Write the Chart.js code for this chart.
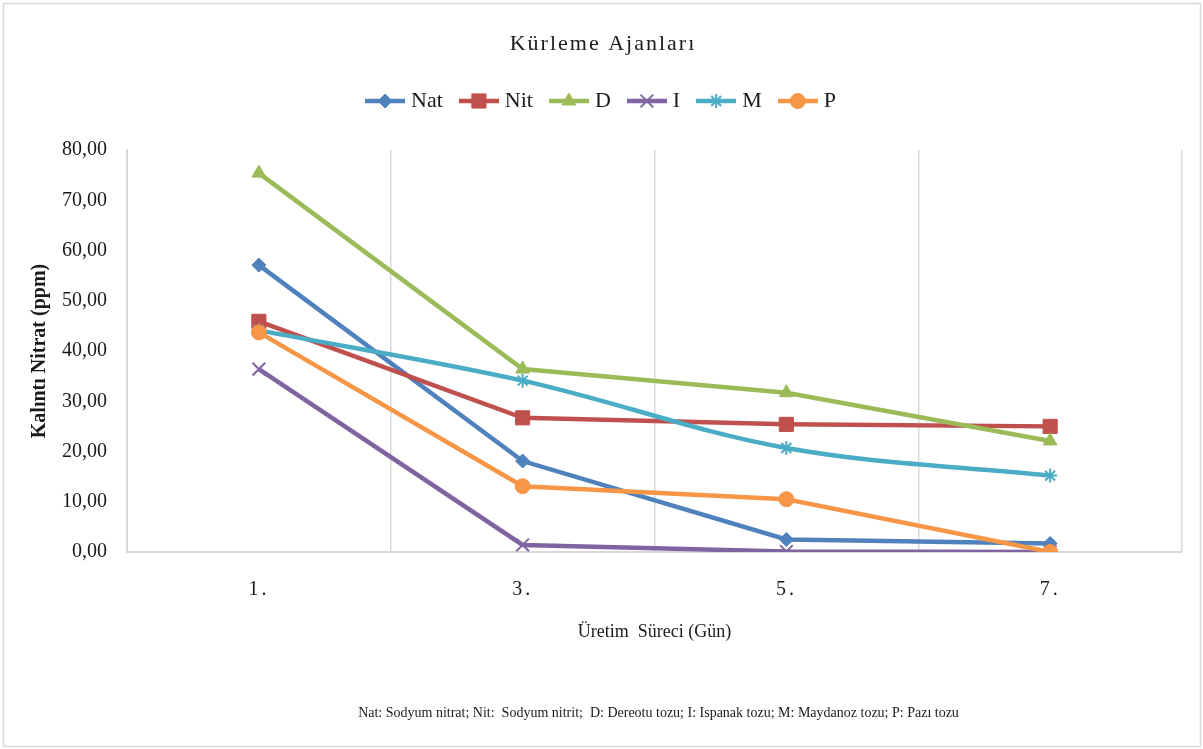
<!DOCTYPE html>
<html lang="tr">
<head>
<meta charset="utf-8">
<title>Kürleme Ajanları</title>
<script src="https://cdn.jsdelivr.net/npm/chart.js@4.4.1/dist/chart.umd.min.js"></script>
<style>
  html, body { margin: 0; padding: 0; background: #ffffff; }
  canvas { display: block; }
</style>
</head>
<body>
<canvas id="chart" width="1203" height="749"></canvas>
<script>
// Production days (x categories)
const days = ['1.', '3.', '5.', '7.'];

// Residual nitrate (ppm) per curing agent
const natValues      = [57.1, 18.1, 2.5, 1.7];   // Sodyum nitrat
const nitValues      = [45.9, 26.7, 25.4, 25.0]; // Sodyum nitrit
const dereotuValues  = [75.4, 36.4, 31.7, 22.1]; // Dereotu tozu
const ispanakValues  = [36.4, 1.4, 0.1, 0.0];    // Ispanak tozu
const maydanozValues = [44.1, 34.1, 20.7, 15.2]; // Maydanoz tozu
const paziValues     = [43.7, 13.1, 10.5, 0.0];  // Pazı tozu

const seriesNames = ['Nat', 'Nit', 'D', 'I', 'M', 'P'];
const seriesValues = [natValues, nitValues, dereotuValues, ispanakValues, maydanozValues, paziValues];

// Y axis range
const yMin = 0;
const yMax = 80;
const yStep = 10;

const chartTitle = 'Kürleme Ajanları';
const yTitle = 'Kalıntı Nitrat (ppm)';
const xTitle = 'Üretim  Süreci (Gün)';
const footnoteText = 'Nat: Sodyum nitrat; Nit:  Sodyum nitrit;  D: Dereotu tozu; I: Ispanak tozu; M: Maydanoz tozu; P: Pazı tozu';

// Marker and line styling per series (only the M series is smoothed)
const seriesStyles = [
  { color: '#4F81BD', pointStyle: 'rectRot',  radius: 7,   pointBorder: 1, tension: 0 },
  { color: '#C0504D', pointStyle: 'rect',     radius: 10,  pointBorder: 1, tension: 0 },
  { color: '#9BBB59', pointStyle: 'triangle', radius: 8,   pointBorder: 1, tension: 0 },
  { color: '#8064A2', pointStyle: 'crossRot', radius: 9,   pointBorder: 2, tension: 0 },
  { color: '#4BACC6', pointStyle: 'star',     radius: 7,   pointBorder: 2, tension: 0.35 },
  { color: '#F79646', pointStyle: 'circle',   radius: 7.5, pointBorder: 1, tension: 0 }
];

const FONT = '"Liberation Serif", "Times New Roman", serif';
const TEXT = '#1a1a1a';
const GRID = '#d9d9d9';
const LINE_WIDTH = 4.5;

// Legend icon: a short line segment with the series marker in its middle
function legendIcon(style) {
  const c = document.createElement('canvas');
  c.width = 40; c.height = 22;
  const g = c.getContext('2d');
  g.strokeStyle = style.color;
  g.lineWidth = LINE_WIDTH;
  g.beginPath(); g.moveTo(0, 11); g.lineTo(40, 11); g.stroke();
  g.fillStyle = style.color;
  g.strokeStyle = style.color;
  g.lineWidth = style.pointBorder;
  Chart.helpers.drawPoint(g, {
    pointStyle: style.pointStyle,
    radius: style.radius,
    borderWidth: style.pointBorder,
    rotation: 0
  }, 20, 11);
  return c;
}

const datasets = seriesNames.map((name, i) => {
  const s = seriesStyles[i];
  return {
    label: name,
    data: seriesValues[i],
    borderColor: s.color,
    backgroundColor: s.color,
    borderWidth: LINE_WIDTH,
    pointStyle: s.pointStyle,
    pointRadius: s.radius,
    pointHoverRadius: s.radius,
    pointBackgroundColor: s.color,
    pointBorderColor: s.color,
    pointBorderWidth: s.pointBorder,
    tension: s.tension,
    fill: false,
    order: seriesNames.length - i   // later series are painted on top
  };
});

// White background and thin outer frame
const framePlugin = {
  id: 'frame',
  beforeDraw(chart) {
    const { ctx, width, height } = chart;
    ctx.save();
    ctx.fillStyle = '#ffffff';
    ctx.fillRect(0, 0, width, height);
    ctx.strokeStyle = GRID;
    ctx.lineWidth = 1.5;
    ctx.strokeRect(3.5, 3.5, width - 6, height - 6);
    ctx.restore();
  }
};

// Letter spacing for the title and the day labels, and a gap under the legend
function spaced(obj, method, spacing) {
  if (!obj || obj[method].__spaced) return;
  const orig = obj[method];
  const fn = function (...args) {
    const c = this.ctx;
    const prev = c.letterSpacing;
    c.letterSpacing = spacing;
    orig.apply(this, args);
    c.letterSpacing = prev;
  };
  fn.__spaced = true;
  obj[method] = fn;
}
const spacingPlugin = {
  id: 'spacing',
  beforeLayout(chart) {
    const lg = chart.legend;
    if (lg && !lg.__gap) {
      const fit = lg.fit;
      lg.fit = function () { fit.call(this); this.height += 28; };
      lg.__gap = true;
    }
  },
  afterLayout(chart) {
    spaced(chart.titleBlock, 'draw', '2px');
    spaced(chart.scales.x, 'drawLabels', '3px');
  }
};

// Abbreviation key under the x axis
const footnotePlugin = {
  id: 'footnote',
  afterDraw(chart) {
    const { ctx, chartArea, height } = chart;
    ctx.save();
    ctx.font = '14px ' + FONT;
    ctx.fillStyle = TEXT;
    ctx.textAlign = 'center';
    ctx.textBaseline = 'middle';
    ctx.fillText(footnoteText, (chartArea.left + chartArea.right) / 2 + 4, height - 36);
    ctx.restore();
  }
};

new Chart(document.getElementById('chart'), {
  type: 'line',
  data: { labels: days, datasets },
  plugins: [framePlugin, spacingPlugin, footnotePlugin],
  options: {
    responsive: false,
    animation: false,
    devicePixelRatio: 1,
    layout: { padding: { left: 24, right: 21, top: 0, bottom: 45 } },
    plugins: {
      title: {
        display: true,
        text: chartTitle,
        color: TEXT,
        font: { family: FONT, size: 22, weight: 'normal' },
        padding: { top: 31, bottom: 11.6 }
      },
      legend: {
        display: true,
        position: 'top',
        labels: {
          color: TEXT,
          font: { family: FONT, size: 22 },
          usePointStyle: true,
          pointStyleWidth: 30,
          padding: 21,
          sort: (a, b) => a.datasetIndex - b.datasetIndex,
          generateLabels(chart) {
            const items = Chart.defaults.plugins.legend.labels.generateLabels(chart);
            items.forEach(it => { it.pointStyle = legendIcon(seriesStyles[it.datasetIndex]); });
            return items;
          }
        }
      },
      tooltip: { enabled: false }
    },
    scales: {
      x: {
        offset: true,
        grid: { display: true, offset: true, color: GRID, lineWidth: 1.5, drawTicks: false },
        border: { display: true, color: GRID, width: 2 },
        ticks: { color: TEXT, font: { family: FONT, size: 20 }, padding: 26 },
        title: {
          display: true,
          text: xTitle,
          color: TEXT,
          font: { family: FONT, size: 18 },
          padding: { top: 0, bottom: 61 }
        },
        afterFit(scale) { scale.height = 152; }
      },
      y: {
        min: yMin,
        max: yMax,
        grid: { display: false, drawTicks: false },
        border: { display: true, color: GRID, width: 2 },
        ticks: {
          stepSize: yStep,
          color: TEXT,
          font: { family: FONT, size: 20 },
          padding: 20,
          callback: v => v.toFixed(2).replace('.', ',')
        },
        title: {
          display: true,
          text: yTitle,
          color: TEXT,
          font: { family: FONT, size: 20, weight: 'bold' },
          padding: { top: 4, bottom: 0 }
        },
        afterFit(scale) { scale.width = 103; }
      }
    }
  }
});
</script>
</body>
</html>
